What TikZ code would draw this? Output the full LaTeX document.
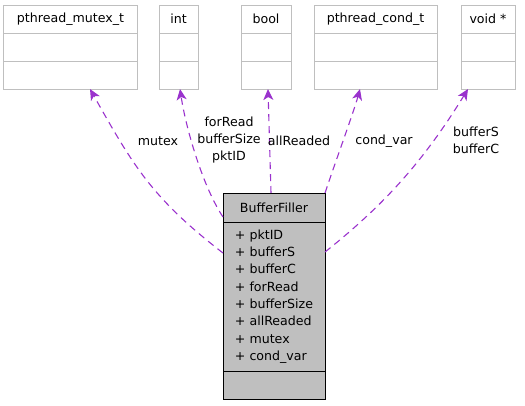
\documentclass[tikz,border=0pt]{standalone}
\usepackage{fontspec}
\setmainfont{DejaVu Sans}
\usepackage{tikz}
\usetikzlibrary{arrows.meta,positioning}
\tikzset{every node/.append style={align=center}}
\definecolor{edgecolor}{RGB}{154, 50, 205}
\definecolor{boxgray}{RGB}{191, 191, 191}
\newcommand{\dxfont}{\fontsize{12.65}{17.4}\selectfont}

\begin{document}
\begin{tikzpicture}[x=1bp, y=-1bp, font=\dxfont,
    classbox/.style={draw=boxgray, fill=white, line width=1bp, inner sep=0pt, outer sep=0pt, minimum height=28bp},
    mainbox/.style={draw=black, fill=boxgray, line width=1bp, inner sep=0pt, outer sep=0pt, minimum width=102bp},
    uses/.style={draw=edgecolor, line width=1.1bp, dash pattern=on 7bp off 5bp, -{Stealth[length=11bp, width=10bp, inset=3bp]}}]
    \useasboundingbox (0,0) rectangle (525,405);

    % Used types
    \node[classbox, minimum width=133bp] (mutexT) at (70.5,19) {pthread\_mutex\_t};
    \node[classbox, minimum width=133bp, below=0pt of mutexT] (mutexA) {};
    \node[classbox, minimum width=133bp, below=0pt of mutexA] (mutexM) {};

    \node[classbox, minimum width=39bp] (intT) at (178.5,19) {int};
    \node[classbox, minimum width=39bp, below=0pt of intT] (intA) {};
    \node[classbox, minimum width=39bp, below=0pt of intA] (intM) {};

    \node[classbox, minimum width=50bp] (boolT) at (266,19) {bool};
    \node[classbox, minimum width=50bp, below=0pt of boolT] (boolA) {};
    \node[classbox, minimum width=50bp, below=0pt of boolA] (boolM) {};

    \node[classbox, minimum width=123bp] (condT) at (375.5,19) {pthread\_cond\_t};
    \node[classbox, minimum width=123bp, below=0pt of condT] (condA) {};
    \node[classbox, minimum width=123bp, below=0pt of condA] (condM) {};

    \node[classbox, minimum width=54bp] (voidT) at (488,19) {void *};
    \node[classbox, minimum width=54bp, below=0pt of voidT] (voidA) {};
    \node[classbox, minimum width=54bp, below=0pt of voidA] (voidM) {};

    % BufferFiller
    \node[mainbox, minimum height=29bp] (bfT) at (274,207.5) {BufferFiller};
    \node[mainbox, minimum height=149bp, below=0pt of bfT, align=left] (bfA) {+ pktID\\+ bufferS\\+ bufferC\\+ forRead\\+ bufferSize\\+ allReaded\\+ mutex\\+ cond\_var};
    \node[mainbox, minimum height=28bp, below=0pt of bfA] (bfM) {};

    % Members
    \draw[uses] ([yshift=-31bp]bfA.north west) .. controls +(-71,-55) and +(44,78) .. ([xshift=19.5bp]mutexM.south);
    \draw[uses] ([yshift=-24bp]bfT.north west) .. controls +(-20,-30) and +(6,40) .. ([xshift=1.5bp]intM.south);
    \draw[uses] ([xshift=-3bp]bfT.north) -- ([xshift=2bp]boolM.south);
    \draw[uses] (bfT.north east) .. controls +(10,-30) and +(-6,22) .. ([xshift=-15.5bp]condM.south);
    \draw[uses] ([yshift=-30bp]bfA.north east) .. controls +(63,-50) and +(-42,68) .. ([xshift=-20bp]voidM.south);

    \node (mutexL) at (158,141) {mutex};
    \node (intL) at (229,140) {forRead\\bufferSize\\pktID};
    \node (boolL) at (299,141) {allReaded};
    \node (condL) at (384,141) {cond\_var};
    \node (voidL) at (476,140.5) {bufferS\\bufferC};
\end{tikzpicture}
\end{document}
